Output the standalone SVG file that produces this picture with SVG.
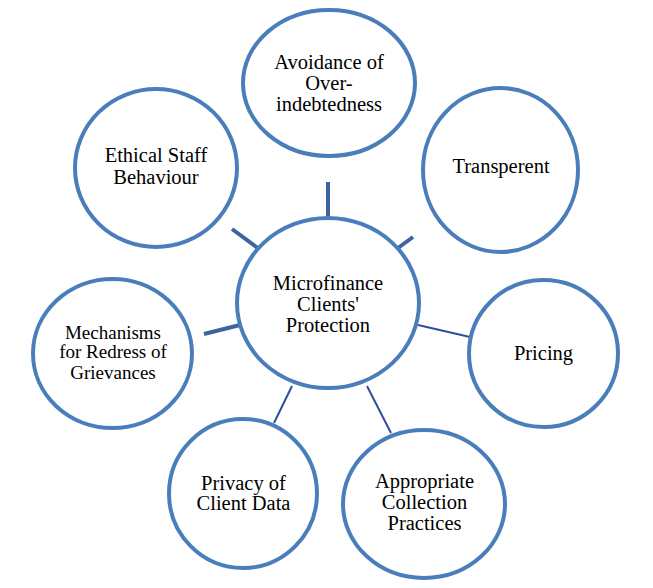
<svg xmlns="http://www.w3.org/2000/svg" width="653" height="588" viewBox="0 0 653 588">
<style>
.node{fill:#ffffff;stroke:#4A7EBB;stroke-width:4}
.t{font-family:'Liberation Serif','Times New Roman',serif;font-size:20.5px;fill:#000;text-anchor:middle}
.s{font-size:19px}
.thick{stroke:#3C65A0;stroke-width:4;fill:none}
.thin{stroke:#2F4E9C;stroke-width:2;fill:none}
</style>
<rect width="653" height="588" fill="#ffffff"/>
<g id="connectors">
<line class="thick" x1="328" y1="182" x2="328" y2="218"/>
<line class="thick" x1="232" y1="229" x2="259" y2="249"/>
<line class="thick" x1="398" y1="248" x2="413" y2="237"/>
<line class="thick" x1="204" y1="334" x2="240" y2="325"/>
<line class="thin" x1="418" y1="325" x2="470" y2="337"/>
<line class="thin" x1="292" y1="386" x2="274" y2="423"/>
<line class="thin" x1="367" y1="386" x2="391" y2="433"/>
</g>
<g id="center">
<ellipse class="node" cx="328" cy="303" rx="91" ry="85"/>
<text class="t" x="328" y="289.5">Microfinance</text>
<text class="t" x="328" y="310.5">Clients'</text>
<text class="t" x="328" y="331.5">Protection</text>
</g>
<g id="avoidance">
<ellipse class="node" cx="329" cy="83" rx="86" ry="73"/>
<text class="t" x="329" y="69">Avoidance of</text>
<text class="t" x="329" y="90">Over-</text>
<text class="t" x="329" y="110.5">indebtedness</text>
</g>
<g id="ethical">
<ellipse class="node" cx="156" cy="168" rx="81" ry="79"/>
<text class="t" x="156" y="162">Ethical Staff</text>
<text class="t" x="156" y="183.5">Behaviour</text>
</g>
<g id="transperent">
<ellipse class="node" cx="500.5" cy="170" rx="77.5" ry="82"/>
<text class="t" x="501" y="172.5">Transperent</text>
</g>
<g id="mechanisms">
<ellipse class="node" cx="112.5" cy="353.5" rx="79.5" ry="74.5"/>
<text class="t s" x="113" y="338.5">Mechanisms</text>
<text class="t s" x="113" y="357.5">for Redress of</text>
<text class="t s" x="113" y="378.5">Grievances</text>
</g>
<g id="pricing">
<ellipse class="node" cx="543.5" cy="353.5" rx="74.5" ry="73.5"/>
<text class="t" x="543.5" y="360">Pricing</text>
</g>
<g id="privacy">
<ellipse class="node" cx="243" cy="493.5" rx="74" ry="74.5"/>
<text class="t" x="243.5" y="489.5">Privacy of</text>
<text class="t" x="243.5" y="509.5">Client Data</text>
</g>
<g id="appropriate">
<ellipse class="node" cx="424" cy="504" rx="81" ry="74"/>
<text class="t" x="424.5" y="487.5">Appropriate</text>
<text class="t" x="424.5" y="509">Collection</text>
<text class="t" x="424.5" y="530">Practices</text>
</g>
</svg>
